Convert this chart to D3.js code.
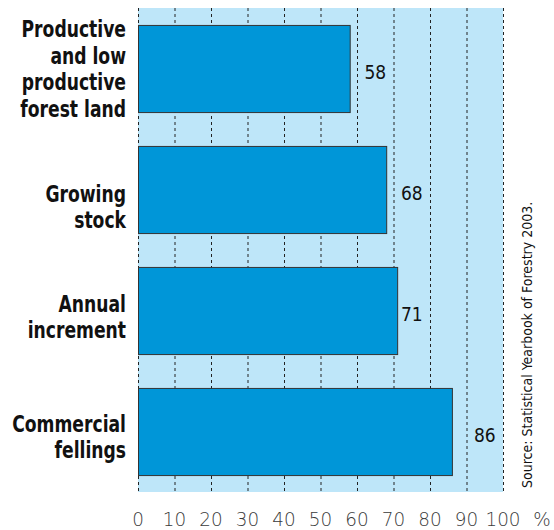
<!DOCTYPE html>
<html>
<head>
<meta charset="utf-8">
<script src="https://cdn.jsdelivr.net/npm/d3@7"></script>
<style>
  body { margin: 0; background: #fff; }
  svg text { font-family: "DejaVu Sans", sans-serif; font-stretch: condensed; }
</style>
</head>
<body>
<svg class="chart"></svg>
<script>
//DATA
const categories = [
    ['Productive', 'and low', 'productive', 'forest land'],
    ['Growing', 'stock'],
    ['Annual', 'increment'],
    ['Commercial', 'fellings']
];
const values = [58, 68, 71, 86];
const ticks = [0, 10, 20, 30, 40, 50, 60, 70, 80, 90, 100];
const source = 'Source: Statistical Yearbook of Forestry 2003.';

//LAYOUT
const size = {w: 554, h: 530};
const plot = {left: 138, right: 503, top: 8, bottom: 492};
const labelNudge = [0, 17, 6, 5];   // category labels sit a bit low in the original
const lineH = 26.5;
const squeeze = 0.83;                // fake a narrower bold face

const svg = d3.select('svg.chart')
    .attr('width', size.w)
    .attr('height', size.h);

//SCALES
const x = d3.scaleLinear()
    .domain([0, 100])
    .range([plot.left, plot.right]);

const y = d3.scaleBand()
    .domain(d3.range(values.length))
    .range([plot.top, plot.bottom])
    .paddingInner(0.28)
    .paddingOuter(0.14);

//BACKGROUND
svg.append('rect')
    .attr('x', x(0))
    .attr('y', plot.top)
    .attr('width', x(100) - x(0))
    .attr('height', plot.bottom - plot.top)
    .attr('fill', '#bee6f9');

//GRID
svg.append('g')
    .selectAll('line')
    .data(ticks)
    .join('line')
    .attr('x1', d => x(d) + 0.5)
    .attr('x2', d => x(d) + 0.5)
    .attr('y1', plot.top)
    .attr('y2', plot.bottom)
    .attr('stroke', '#222')
    .attr('stroke-width', 1)
    .attr('stroke-dasharray', '3,3');

//BARS
svg.append('g')
    .selectAll('rect')
    .data(values)
    .join('rect')
    .attr('x', x(0) + 0.5)
    .attr('y', (d, i) => y(i) + 0.5)
    .attr('width', d => x(d) - x(0))
    .attr('height', y.bandwidth())
    .attr('fill', '#0096d8')
    .attr('stroke', '#333')
    .attr('stroke-width', 1);

//VALUE LABELS (centred in a grid cell just past the bar end)
svg.append('g')
    .selectAll('text')
    .data(values)
    .join('text')
    .attr('x', d => x(Math.round(d / 10) * 10 + 5))
    .attr('y', (d, i) => y(i) + y.bandwidth() / 2 + 4)
    .attr('dy', '0.35em')
    .attr('text-anchor', 'middle')
    .attr('font-size', 19)
    .attr('font-weight', 500)
    .attr('fill', '#111')
    .text(d => d);

//CATEGORY LABELS
svg.append('g')
    .selectAll('text')
    .data(categories)
    .join('text')
    .attr('transform', `translate(126,0) scale(${squeeze},1)`)
    .attr('text-anchor', 'end')
    .attr('font-size', 23)
    .attr('font-weight', 'bold')
    .attr('fill', '#111')
    .each(function(lines, i){
        let cy = y(i) + y.bandwidth() / 2 + labelNudge[i];
        let y0 = cy - (lines.length - 1) * lineH / 2;
        d3.select(this).selectAll('tspan')
            .data(lines)
            .join('tspan')
            .attr('x', 0)
            .attr('y', (d, j) => y0 + j * lineH)
            .attr('dy', '0.36em')
            .text(d => d);
    });

//X AXIS LABELS
svg.append('g')
    .selectAll('text')
    .data(ticks)
    .join('text')
    .attr('transform', d => `translate(${x(d)},526) scale(0.92,1)`)
    .attr('text-anchor', 'middle')
    .attr('font-size', 20)
    .attr('font-weight', 300)
    .attr('fill', '#3a3a3a')
    .text(d => d);

svg.append('text')
    .attr('transform', 'translate(542,526) scale(0.92,1)')
    .attr('text-anchor', 'middle')
    .attr('font-size', 20)
    .attr('font-weight', 300)
    .attr('fill', '#3a3a3a')
    .text('%');

//SOURCE
svg.append('text')
    .attr('transform', 'translate(532, 488) rotate(-90)')
    .attr('font-size', 14)
    .attr('fill', '#111')
    .text(source);
</script>
</body>
</html>
